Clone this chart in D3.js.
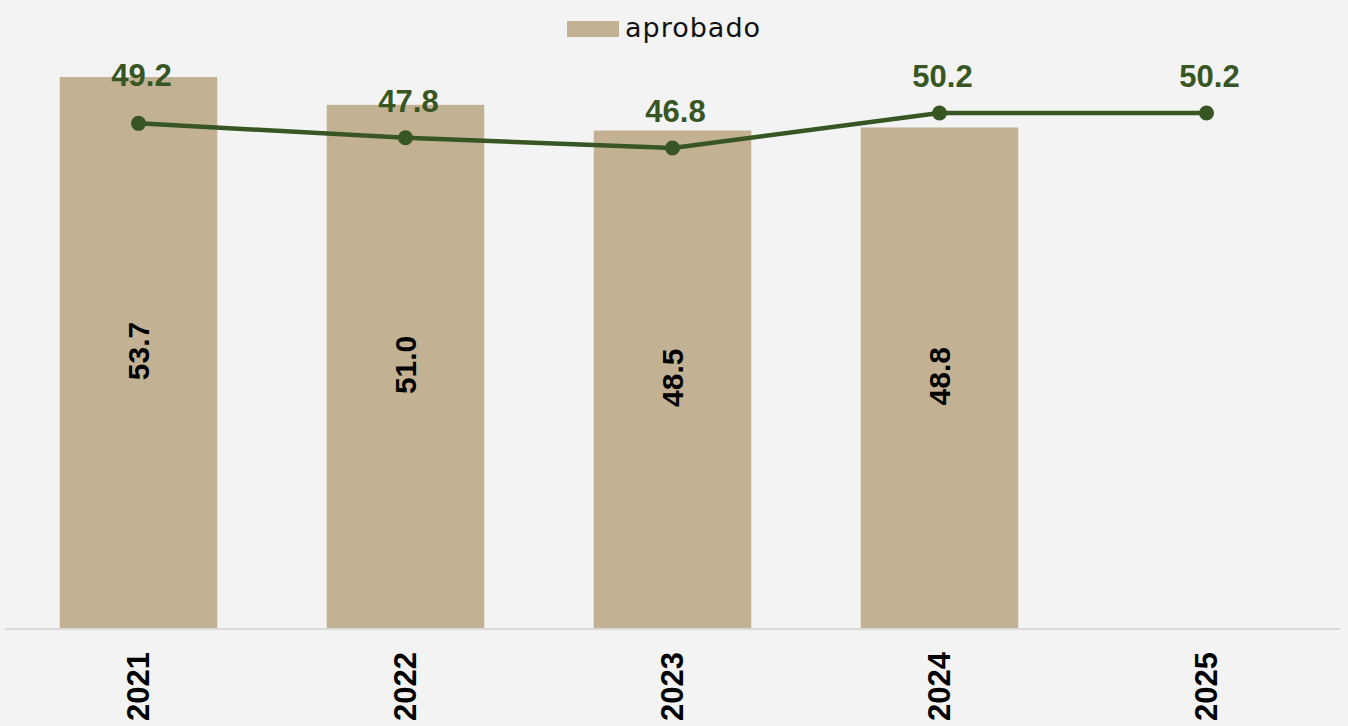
<!DOCTYPE html>
<html lang="es">
<head>
<meta charset="utf-8">
<title>aprobado</title>
<script src="https://cdn.jsdelivr.net/npm/d3@7"></script>
<style>
  html, body { margin: 0; padding: 0; background: #f3f3f3; }
  svg { display: block; }
</style>
</head>
<body>
<script>
// datos
var years = ["2021", "2022", "2023", "2024", "2025"];
var aprobado = [53.7, 51.0, 48.5, 48.8, null];   // barras
var lineValues = [49.2, 47.8, 46.8, 50.2, 50.2]; // linea verde

var w = 1348, h = 726;
var baseY = 629;

var svg = d3.select("body").append("svg")
  .attr("width", w)
  .attr("height", h);

svg.append("rect")
  .attr("width", w).attr("height", h)
  .attr("fill", "#f3f3f3");

var x = d3.scaleBand()
  .domain(years)
  .range([5, 1340])
  .paddingInner(0.41)
  .paddingOuter(0.205);

var y = d3.scaleLinear()
  .domain([0, 61.2])
  .range([baseY, 0]);

var barData = years.map(function(d, i) { return { year: d, v: aprobado[i] }; })
  .filter(function(d) { return d.v != null; });

// barras
svg.selectAll("rect.bar")
  .data(barData)
  .enter().append("rect")
  .attr("class", "bar")
  .attr("x", function(d) { return x(d.year); })
  .attr("y", function(d) { return y(d.v); })
  .attr("width", x.bandwidth())
  .attr("height", function(d) { return baseY - y(d.v); })
  .attr("fill", "#c2b293");

// etiquetas de barra (giradas)
svg.selectAll("text.barlabel")
  .data(barData)
  .enter().append("text")
  .attr("class", "barlabel")
  .attr("transform", function(d) {
    var cx = x(d.year) + x.bandwidth() / 2;
    var cy = (y(d.v) + baseY) / 2 - 2;
    return "translate(" + cx + "," + cy + ") rotate(-90)";
  })
  .attr("text-anchor", "middle")
  .attr("dominant-baseline", "central")
  .attr("font-family", "'Liberation Sans', Arial, sans-serif")
  .attr("font-weight", "bold")
  .attr("font-size", "30px")
  .attr("fill", "#000")
  .text(function(d) { return d.v.toFixed(1); });

// eje x
var xAxis = d3.axisBottom(x).tickSize(0).tickPadding(0);
var gx = svg.append("g")
  .attr("transform", "translate(0," + baseY + ")")
  .call(xAxis);
gx.select(".domain")
  .attr("d", "M5,0H1340")
  .attr("stroke", "#d9d9d9")
  .attr("stroke-width", 2);
gx.selectAll(".tick text")
  .attr("transform", "translate(0,23) rotate(-90)")
  .attr("text-anchor", "end")
  .attr("dy", null)
  .attr("y", 0)
  .attr("dominant-baseline", "central")
  .attr("font-family", "'Liberation Sans', Arial, sans-serif")
  .attr("font-weight", "bold")
  .attr("font-size", "31px")
  .attr("fill", "#000");

// linea
var lineData = years.map(function(d, i) { return { year: d, v: lineValues[i] }; });
var cxOf = function(d) { return x(d.year) + x.bandwidth() / 2; };
var line = d3.line()
  .x(cxOf)
  .y(function(d) { return y(d.v); });

svg.append("path")
  .datum(lineData)
  .attr("d", line)
  .attr("fill", "none")
  .attr("stroke", "#375623")
  .attr("stroke-width", 4.5)
  .attr("stroke-linejoin", "round");

svg.selectAll("circle.pt")
  .data(lineData)
  .enter().append("circle")
  .attr("class", "pt")
  .attr("cx", cxOf)
  .attr("cy", function(d) { return y(d.v); })
  .attr("r", 7.5)
  .attr("fill", "#375623");

svg.selectAll("text.ptlabel")
  .data(lineData)
  .enter().append("text")
  .attr("class", "ptlabel")
  .attr("x", function(d) { return cxOf(d) + 3; })
  .attr("y", function(d, i) { return y(d.v) - (i === 0 ? 37 : 26); })
  .attr("text-anchor", "middle")
  .attr("font-family", "'Liberation Sans', Arial, sans-serif")
  .attr("font-weight", "bold")
  .attr("font-size", "31px")
  .attr("fill", "#375623")
  .text(function(d) { return d.v.toFixed(1); });

// leyenda
var legend = svg.append("g");
legend.append("rect")
  .attr("x", 567).attr("y", 21)
  .attr("width", 52).attr("height", 16)
  .attr("fill", "#c2b293");
legend.append("text")
  .attr("x", 625).attr("y", 37)
  .attr("font-family", "'DejaVu Sans', sans-serif")
  .attr("font-size", "27px")
  .attr("letter-spacing", "1px")
  .attr("fill", "#111")
  .text("aprobado");
</script>
</body>
</html>
